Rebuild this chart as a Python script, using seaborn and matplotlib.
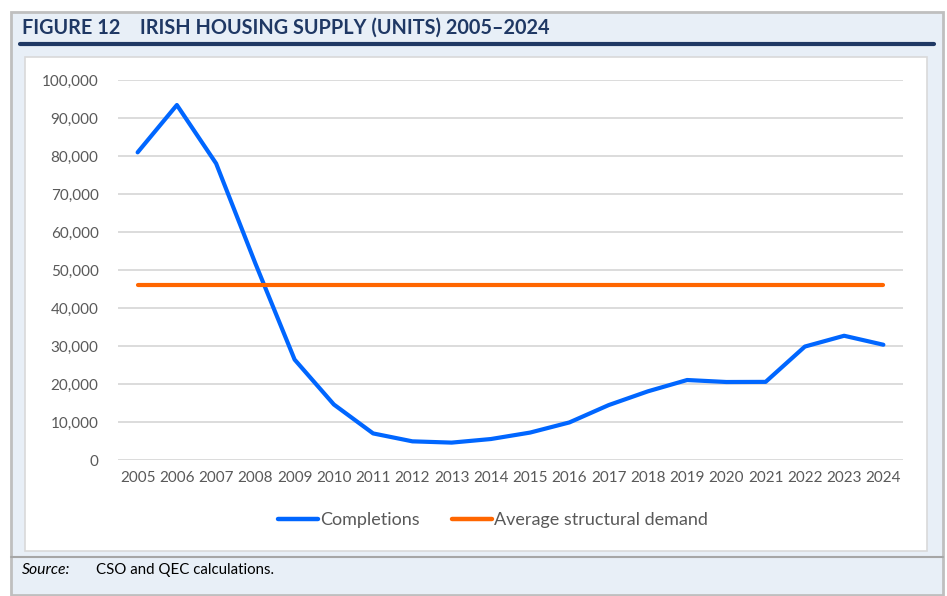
import matplotlib
matplotlib.use("Agg")
import matplotlib.pyplot as plt
import matplotlib.patches as mpatches
import matplotlib.lines as mlines
import seaborn as sns
import pandas as pd

# data
years = [2005, 2006, 2007, 2008, 2009, 2010, 2011, 2012, 2013, 2014,
         2015, 2016, 2017, 2018, 2019, 2020, 2021, 2022, 2023, 2024]
completions = [80957, 93419, 78027, 51724, 26420, 14602, 6994, 4911, 4575, 5518,
               7219, 9886, 14446, 18068, 21049, 20526, 20560, 29851, 32695, 30330]
demand = [46000, 46000, 46000, 46000, 46000, 46000, 46000, 46000, 46000, 46000,
          46000, 46000, 46000, 46000, 46000, 46000, 46000, 46000, 46000, 46000]
y_ticks = [0, 10000, 20000, 30000, 40000, 50000, 60000, 70000, 80000, 90000, 100000]

title = "FIGURE 12    IRISH HOUSING SUPPLY (UNITS) 2005\u20132024"
series_names = ["Completions", "Average structural demand"]
colors = ["#0066ff", "#ff6600"]

df = pd.DataFrame({
    "year": years * 2,
    "value": completions + demand,
    "series": [series_names[0]] * len(years) + [series_names[1]] * len(years),
})

sns.set_theme(style="white")
plt.rcParams["font.family"] = ["Lato", "DejaVu Sans"]

W, H = 947, 596
fig = plt.figure(figsize=(W / 100, H / 100), dpi=100)


def fx(px):
    return px / W


def fy(py):
    return 1 - py / H


# outer light blue panel
fig.add_artist(mpatches.Rectangle((fx(11), fy(595)), fx(943 - 11), (595 - 12) / H,
                                  transform=fig.transFigure, facecolor="#e8eff7",
                                  edgecolor="#bfbfbf", linewidth=2, zorder=-3))
# white chart box
fig.add_artist(mpatches.Rectangle((fx(25), fy(551)), fx(927 - 25), (551 - 57) / H,
                                  transform=fig.transFigure, facecolor="white",
                                  edgecolor="#d9d9d9", linewidth=1.2, zorder=-2))
# navy rule under title
fig.add_artist(mlines.Line2D([fx(20), fx(934)], [fy(43.5), fy(43.5)], color="#1f3864",
                             linewidth=3, transform=fig.transFigure, zorder=-1))
# grey rule above source
fig.add_artist(mlines.Line2D([fx(11), fx(943)], [fy(557), fy(557)], color="#a6a6a6",
                             linewidth=1.5, transform=fig.transFigure, zorder=-1))

fig.text(fx(22), fy(28), title, fontsize=14.3, fontweight="bold", color="#1f3864",
         va="center", ha="left")
fig.text(fx(22), fy(570), "Source:", fontsize=11.3, style="italic", color="black",
         va="center", ha="left")
fig.text(fx(96), fy(570), "CSO and QEC calculations.", fontsize=10.8, color="black",
         va="center", ha="left")

ax = fig.add_axes([fx(118), fy(460), fx(903 - 118), (460 - 80) / H])
ax.set_facecolor("none")
sns.lineplot(data=df, x="year", y="value", hue="series", palette=colors,
             linewidth=3, ax=ax, legend=False)

ax.set_xlim(2004.5, 2024.5)
ax.set_ylim(0, 100000)
ax.set_xticks(years)
ax.set_xticklabels([str(y) for y in years])
ax.set_yticks(y_ticks)
ax.set_yticklabels([f"{v:,}" for v in y_ticks])
ax.tick_params(axis="both", labelsize=11, colors="#595959", length=0)
ax.tick_params(axis="y", pad=14)
ax.tick_params(axis="x", pad=8)
ax.yaxis.grid(True, color="#d9d9d9", linewidth=1.3)
ax.xaxis.grid(False)
for s in ax.spines.values():
    s.set_visible(False)
ax.set_xlabel("")
ax.set_ylabel("")

handles = [mlines.Line2D([], [], color=c, linewidth=3.2) for c in colors]
fig.legend(handles, series_names, loc="center", bbox_to_anchor=(fx(493), fy(520)),
           ncol=2, frameon=False, fontsize=13, labelcolor="#595959",
           handlelength=2.2, handletextpad=0.1, columnspacing=1.8)

fig.savefig("out.png", dpi=100)
